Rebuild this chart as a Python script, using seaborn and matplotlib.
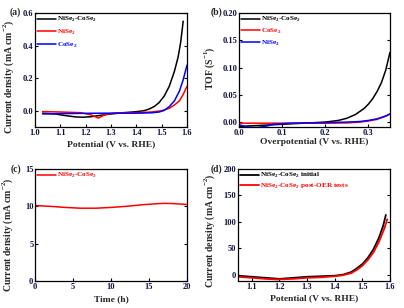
import matplotlib
matplotlib.use("Agg")
import matplotlib.pyplot as plt
import numpy as np
import pandas as pd
import seaborn as sns

# (a) polarization curves
a_black_x = [1.03, 1.08, 1.12, 1.16, 1.19, 1.22, 1.26, 1.30, 1.35, 1.40, 1.43, 1.45, 1.47, 1.49, 1.51, 1.53, 1.55, 1.565, 1.575, 1.585]
a_black_y = [-0.015, -0.02, -0.03, -0.038, -0.04, -0.037, -0.028, -0.02, -0.012, -0.006, 0.0, 0.01, 0.025, 0.05, 0.09, 0.15, 0.24, 0.33, 0.42, 0.55]
a_red_x = [1.03, 1.10, 1.18, 1.22, 1.25, 1.28, 1.32, 1.40, 1.46, 1.50, 1.53, 1.55, 1.57, 1.585, 1.60]
a_red_y = [-0.005, -0.008, -0.012, -0.025, -0.045, -0.022, -0.014, -0.012, -0.008, 0.0, 0.015, 0.035, 0.06, 0.1, 0.15]
a_blue_x = [1.03, 1.10, 1.20, 1.30, 1.40, 1.46, 1.49, 1.51, 1.53, 1.55, 1.57, 1.585, 1.60]
a_blue_y = [-0.02, -0.018, -0.016, -0.015, -0.015, -0.013, -0.008, 0.002, 0.025, 0.06, 0.12, 0.19, 0.28]

# (b) TOF
b_black_x = [0.0, 0.05, 0.10, 0.15, 0.20, 0.23, 0.25, 0.27, 0.29, 0.30, 0.31, 0.32, 0.33, 0.34, 0.35]
b_black_y = [-0.008, -0.006, -0.004, -0.002, 0.0, 0.003, 0.007, 0.014, 0.025, 0.033, 0.043, 0.056, 0.072, 0.095, 0.128]
b_red_x = [0.0, 0.10, 0.20, 0.25, 0.28, 0.30, 0.32, 0.34, 0.35]
b_red_y = [-0.002, -0.002, -0.002, -0.0015, 0.0, 0.002, 0.005, 0.011, 0.015]
b_blue_x = [0.0, 0.02, 0.04, 0.06, 0.08, 0.12, 0.20, 0.25, 0.28, 0.30, 0.32, 0.34, 0.35]
b_blue_y = [-0.005, -0.009, -0.01, -0.008, -0.004, -0.002, -0.001, 0.0, 0.001, 0.003, 0.006, 0.011, 0.015]

# (c) stability
c_x = [0, 2, 4, 6, 8, 10, 12, 14, 16, 17, 18, 20]
c_y = [10.1, 10.0, 9.85, 9.75, 9.75, 9.85, 10.0, 10.2, 10.35, 10.4, 10.38, 10.25]

# (d) before / after
d_black_x = [1.05, 1.10, 1.15, 1.20, 1.25, 1.30, 1.35, 1.40, 1.43, 1.46, 1.48, 1.50, 1.52, 1.54, 1.56, 1.575, 1.585]
d_black_y = [-2, -4, -6, -8, -6, -4, -3, -2, 0, 5, 12, 20, 32, 48, 70, 92, 113]
d_red_x = [1.05, 1.10, 1.15, 1.19, 1.25, 1.30, 1.35, 1.40, 1.43, 1.46, 1.48, 1.50, 1.52, 1.54, 1.56, 1.58, 1.59]
d_red_y = [-4, -6, -8, -9, -8, -6, -5, -3, -1, 3, 9, 17, 28, 42, 62, 88, 105]

sns.set_style("ticks")
plt.rcParams["font.family"] = ["Liberation Serif", "DejaVu Serif"]
plt.rcParams["font.weight"] = "bold"
plt.rcParams["axes.labelweight"] = "bold"
plt.rcParams["mathtext.fontset"] = "custom"
plt.rcParams["mathtext.rm"] = "Liberation Serif:bold"
plt.rcParams["mathtext.bf"] = "Liberation Serif:bold"

fig = plt.figure(figsize=(4.04, 3.08), dpi=100)
W, H = 404, 308


def make_ax(l, t, r, b):
    return fig.add_axes([l / W, 1 - b / H, (r - l) / W, (b - t) / H])


ax_a = make_ax(35, 13, 187, 127)
ax_b = make_ax(239, 13, 390, 127)
ax_c = make_ax(35, 169, 187, 281)
ax_d = make_ax(238, 169, 390, 281)

NS = "NiSe$_2$"
CS = "CoSe$_2$"
NC = "NiSe$_2$-CoSe$_2$"

sns.lineplot(x=a_black_x, y=a_black_y, ax=ax_a, color="black", lw=1.1, sort=False, label=NC)
sns.lineplot(x=a_red_x, y=a_red_y, ax=ax_a, color="#ff0000", lw=1.1, sort=False, label=NS)
sns.lineplot(x=a_blue_x, y=a_blue_y, ax=ax_a, color="#0000ff", lw=1.1, sort=False, label=CS)
ax_a.set_xlim(1.0, 1.6)
ax_a.set_ylim(-0.1, 0.6)
ax_a.set_xticks(np.arange(1.0, 1.61, 0.1))
ax_a.set_yticks([0.0, 0.2, 0.4, 0.6])
ax_a.set_xlabel("Potential (V vs. RHE)")
ax_a.set_ylabel("Current density (mA cm$^{-2}$)")

sns.lineplot(x=b_black_x, y=b_black_y, ax=ax_b, color="black", lw=1.1, sort=False, label=NC)
sns.lineplot(x=b_red_x, y=b_red_y, ax=ax_b, color="#ff0000", lw=1.1, sort=False, label=CS)
sns.lineplot(x=b_blue_x, y=b_blue_y, ax=ax_b, color="#0000ff", lw=1.1, sort=False, label=NS)
ax_b.set_xlim(0.0, 0.35)
ax_b.set_ylim(-0.009, 0.2)
ax_b.set_xticks([0.0, 0.1, 0.2, 0.3])
ax_b.set_yticks([0.0, 0.05, 0.10, 0.15, 0.20])
ax_b.set_yticklabels(["0.00", "0.05", "0.10", "0.15", "0.20"])
ax_b.set_xlabel("Overpotential (V vs. RHE)")
ax_b.set_ylabel("TOF (S$^{-1}$)")

sns.lineplot(x=c_x, y=c_y, ax=ax_c, color="#ff0000", lw=1.1, sort=False, label=NC)
ax_c.set_xlim(0, 20)
ax_c.set_ylim(0, 15)
ax_c.set_xticks([0, 5, 10, 15, 20])
ax_c.set_yticks([0, 5, 10, 15])
ax_c.set_xlabel("Time (h)")
ax_c.set_ylabel("Current density (mA cm$^{-2}$)")

sns.lineplot(x=d_black_x, y=d_black_y, ax=ax_d, color="black", lw=1.3, sort=False, label=NC + " initial")
sns.lineplot(x=d_red_x, y=d_red_y, ax=ax_d, color="#ff0000", lw=1.3, sort=False, label=NC + " post-OER tests")
ax_d.set_xlim(1.05, 1.6)
ax_d.set_ylim(-12, 200)
ax_d.set_xticks(np.arange(1.1, 1.61, 0.1))
ax_d.set_yticks([0, 50, 100, 150, 200])
ax_d.set_xlabel("Potential (V vs. RHE)")
ax_d.set_ylabel("Current density (mA cm$^{-2}$)")

# per-panel layout: tag position (px), ylabel x/y, xlabel y (axes fraction), legend row spacing
panels = [
    (ax_a, "(a)", 10, 12, -0.125, 0.44, -0.12, 0.5),
    (ax_b, "(b)", 211, 12, -0.145, 0.52, -0.10, 0.35),
    (ax_c, "(c)", 11, 169, -0.13, 0.41, -0.125, 0.5),
    (ax_d, "(d)", 211, 169, -0.14, 0.45, -0.115, 0.15),
]

for ax, tag, tx, ty, ylx, yly, xly, spacing in panels:
    for s in ax.spines.values():
        s.set_linewidth(0.9)
        s.set_color("black")
    ax.tick_params(axis="both", labelsize=6, width=0.8, length=2.5, pad=1.2,
                   direction="out", colors="black", labelcolor="#101040")
    ax.tick_params(right=True, direction="in")
    ax.xaxis.label.set_size(6.8)
    ax.yaxis.label.set_size(7.0)
    ax.yaxis.set_label_coords(ylx, yly)
    ax.xaxis.set_label_coords(0.5, xly)
    fig.text(tx / W, 1 - ty / H, tag, ha="left", va="center",
             fontsize=7, fontweight="bold")
    leg = ax.legend(loc="upper left", bbox_to_anchor=(0.0, 1.0), frameon=False,
                    fontsize=5.2, handlelength=2.6, handletextpad=0.2,
                    borderaxespad=0.0, borderpad=0.3, labelspacing=spacing)
    for line, text in zip(leg.get_lines(), leg.get_texts()):
        text.set_color(line.get_color())

fig.savefig("out.png", dpi=100)
